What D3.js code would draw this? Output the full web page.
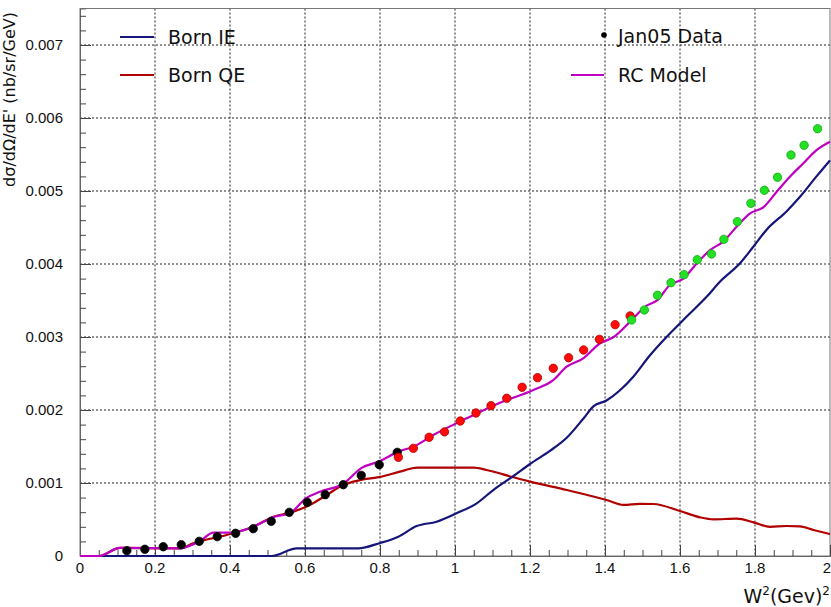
<!DOCTYPE html>
<html>
<head>
<meta charset="utf-8">
<script src="https://cdn.jsdelivr.net/npm/d3@7"></script>
<style>
  html, body { margin: 0; padding: 0; background: #fff; }
  svg { display: block; }
</style>
</head>
<body>
<svg id="chart" width="831" height="607"></svg>
<script>
// Born inelastic cross section (W², value)
const bornIEx = [0, 0.51, 0.578, 0.742, 0.8, 0.849, 0.898, 0.951, 1.004, 1.058, 1.102, 1.156, 1.2, 1.253, 1.298, 1.342, 1.369, 1.404, 1.44, 1.476, 1.52, 1.564, 1.618, 1.671, 1.707, 1.76, 1.796, 1.831, 1.884, 1.92, 1.964, 2.0];
const bornIEy = [0, 0, 0.000105, 0.000105, 0.000178, 0.000265, 0.00041, 0.00047, 0.000585, 0.000722, 0.000904, 0.001096, 0.00126, 0.00144, 0.00162, 0.00188, 0.00205, 0.00213, 0.00227, 0.00246, 0.00275, 0.0030, 0.00328, 0.00355, 0.00376, 0.00401, 0.00424, 0.00447, 0.00472, 0.00492, 0.0052, 0.00542];

// Born quasi-elastic cross section
const bornQEx = [0, 0.05, 0.107, 0.267, 0.302, 0.391, 0.462, 0.516, 0.569, 0.613, 0.658, 0.702, 0.747, 0.8, 0.853, 0.9, 1.05, 1.084, 1.156, 1.2, 1.298, 1.404, 1.449, 1.493, 1.529, 1.6, 1.653, 1.689, 1.751, 1.796, 1.84, 1.884, 1.92, 1.956, 2.0];
const bornQEy = [0, 0, 0.00011, 0.000105, 0.000174, 0.000288, 0.0004, 0.000538, 0.000607, 0.0007, 0.000836, 0.000973, 0.00104, 0.001083, 0.001155, 0.00121, 0.00121, 0.001178, 0.001078, 0.001018, 0.000904, 0.000767, 0.000699, 0.000715, 0.000712, 0.000616, 0.00053, 0.000502, 0.000511, 0.000461, 0.0004, 0.000411, 0.000405, 0.000356, 0.0003];

// Radiated model
const rcModelx = [0, 0.05, 0.107, 0.267, 0.293, 0.32, 0.356, 0.404, 0.462, 0.516, 0.56, 0.602, 0.64, 0.702, 0.752, 0.8, 0.849, 0.889, 0.942, 1.031, 1.12, 1.209, 1.262, 1.298, 1.342, 1.387, 1.422, 1.467, 1.511, 1.538, 1.573, 1.609, 1.645, 1.68, 1.715, 1.751, 1.787, 1.822, 1.858, 1.893, 1.929, 1.964, 2.0];
const rcModely = [0, 0, 0.00011, 0.000105, 0.00014, 0.000205, 0.00032, 0.00032, 0.0004, 0.000535, 0.000585, 0.00079, 0.00088, 0.00099, 0.00121, 0.0013, 0.00143, 0.001497, 0.001657, 0.001886, 0.0021, 0.002274, 0.00241, 0.002593, 0.002708, 0.002914, 0.002996, 0.00321, 0.00343, 0.003497, 0.003712, 0.0038, 0.00401, 0.00419, 0.004306, 0.00451, 0.004694, 0.004776, 0.00499, 0.005196, 0.005379, 0.00556, 0.005675];

// Jan05 data, three momentum settings
const dataBlackx = [0.125, 0.173, 0.222, 0.270, 0.318, 0.366, 0.415, 0.462, 0.510, 0.558, 0.606, 0.654, 0.702, 0.750, 0.798, 0.846];
const dataBlacky = [0.000073, 0.000092, 0.000127, 0.000155, 0.000201, 0.000265, 0.000311, 0.000374, 0.000475, 0.000598, 0.000735, 0.00084, 0.000977, 0.001105, 0.001251, 0.00142];
const dataRedx = [0.849, 0.889, 0.931, 0.972, 1.014, 1.056, 1.096, 1.138, 1.179, 1.220, 1.262, 1.303, 1.343, 1.385, 1.427, 1.467];
const dataRedy = [0.001352, 0.001475, 0.001626, 0.0017, 0.001849, 0.001959, 0.002059, 0.00216, 0.002311, 0.002443, 0.002571, 0.002716, 0.002822, 0.002968, 0.003169, 0.003288];
const dataGreenx = [1.471, 1.505, 1.540, 1.576, 1.611, 1.646, 1.684, 1.717, 1.753, 1.789, 1.825, 1.860, 1.896, 1.931, 1.967];
const dataGreeny = [0.003233, 0.00337, 0.003571, 0.003744, 0.003854, 0.004059, 0.004137, 0.004338, 0.00458, 0.004831, 0.00501, 0.005188, 0.005493, 0.005626, 0.005853];

const xTicks = [0, 0.2, 0.4, 0.6, 0.8, 1, 1.2, 1.4, 1.6, 1.8, 2];
const yTicks = [0, 0.001, 0.002, 0.003, 0.004, 0.005, 0.006, 0.007];

const svg = d3.select("#chart");
const plotLeft = 80, plotRight = 830, plotTop = 8.5, plotBottom = 556;

const x = d3.scaleLinear().domain([0, 2]).range([plotLeft, plotRight]);
const y = d3.scaleLinear().domain([0, 0.0075]).range([plotBottom, plotTop]);

const tickFont = "'Liberation Sans', Arial, sans-serif";
const textFont = "'DejaVu Sans', sans-serif";

// dotted grid
const grid = svg.append("g");
grid.selectAll("line.gx").data(xTicks.slice(1, -1)).join("line")
  .attr("x1", d => x(d)).attr("x2", d => x(d))
  .attr("y1", plotTop).attr("y2", plotBottom)
  .attr("stroke", "#222").attr("stroke-width", 1).attr("stroke-dasharray", "2,2");
grid.selectAll("line.gy").data(yTicks.slice(1)).join("line")
  .attr("x1", plotLeft).attr("x2", plotRight)
  .attr("y1", d => y(d)).attr("y2", d => y(d))
  .attr("stroke", "#222").attr("stroke-width", 1).attr("stroke-dasharray", "2,2");

// frame
svg.append("rect")
  .attr("x", plotLeft).attr("y", plotTop)
  .attr("width", plotRight - plotLeft).attr("height", plotBottom - plotTop)
  .attr("fill", "none").attr("stroke", "#777").attr("stroke-width", 1);

// axes with inward ticks
const xAxis = svg.append("g").attr("transform", `translate(0,${plotBottom})`)
  .call(d3.axisBottom(x).tickValues(d3.range(0, 2.0001, 0.05)).tickSize(-6).tickFormat(""));
xAxis.selectAll(".tick line").attr("stroke", "#444")
  .attr("y2", d => Math.abs(d * 5 - Math.round(d * 5)) < 1e-6 ? -11 : -6);
xAxis.select(".domain").attr("stroke", "#666");

const xLabels = svg.append("g");
xLabels.selectAll("text").data(xTicks).join("text")
  .attr("x", d => d === 2 ? plotRight + 1 : x(d)).attr("y", 573)
  .attr("text-anchor", d => d === 2 ? "end" : "middle")
  .attr("font-family", tickFont).attr("font-size", 15).attr("fill", "#111")
  .text(d => String(+d.toFixed(1)));

const yAxis = svg.append("g").attr("transform", `translate(${plotLeft},0)`)
  .call(d3.axisLeft(y).tickValues(d3.range(0, 0.00750001, 0.0002)).tickSize(-6).tickFormat(""));
yAxis.selectAll(".tick line").attr("stroke", "#444")
  .attr("x2", d => Math.abs(d * 1000 - Math.round(d * 1000)) < 1e-6 ? 11 : 6);
yAxis.select(".domain").attr("stroke", "#666");

const yLabels = svg.append("g");
yLabels.selectAll("text").data(yTicks).join("text")
  .attr("x", 63).attr("y", d => y(d) + 5)
  .attr("text-anchor", "end")
  .attr("font-family", tickFont).attr("font-size", 15).attr("fill", "#111")
  .text(d => d === 0 ? "0" : d3.format(".3f")(d));

// axis titles
const xt = svg.append("text")
  .attr("x", 830).attr("y", 603).attr("text-anchor", "end")
  .attr("font-family", textFont).attr("font-size", 19).attr("fill", "#111");
xt.append("tspan").text("W");
xt.append("tspan").attr("dy", -8).attr("font-size", 12).text("2");
xt.append("tspan").attr("dy", 8).text("(Gev)");
xt.append("tspan").attr("dy", -8).attr("font-size", 12).text("2");

svg.append("text")
  .attr("transform", "translate(15,12) rotate(-90)")
  .attr("text-anchor", "end")
  .attr("font-family", textFont).attr("font-size", 16).attr("fill", "#111")
  .text("dσ/dΩ/dE' (nb/sr/GeV)");

// curves
const line = d3.line().x(d => x(d[0])).y(d => y(d[1])).curve(d3.curveMonotoneX);
const curves = [
  { xs: bornQEx, ys: bornQEy, color: "#b00000" },
  { xs: bornIEx, ys: bornIEy, color: "#15157a" },
  { xs: rcModelx, ys: rcModely, color: "#c000c0" }
];
const plot = svg.append("g");
curves.forEach(c => {
  plot.append("path")
    .datum(c.xs.map((v, i) => [v, c.ys[i]]))
    .attr("d", line)
    .attr("fill", "none").attr("stroke", c.color).attr("stroke-width", 2.2)
    .attr("stroke-linejoin", "round");
});

// data points
const sets = [
  { xs: dataBlackx, ys: dataBlacky, fill: "#000", stroke: "#000" },
  { xs: dataRedx, ys: dataRedy, fill: "#ff0a0a", stroke: "#b00000" },
  { xs: dataGreenx, ys: dataGreeny, fill: "#22e022", stroke: "#14a814" }
];
sets.forEach(s => {
  plot.append("g").selectAll("circle")
    .data(s.xs.map((v, i) => [v, s.ys[i]])).join("circle")
    .attr("cx", d => x(d[0])).attr("cy", d => y(d[1])).attr("r", 4.2)
    .attr("fill", s.fill).attr("stroke", s.stroke).attr("stroke-width", 0.8);
});

// legend
const legend = svg.append("g").attr("font-family", textFont).attr("font-size", 19).attr("fill", "#111");
legend.append("line").attr("x1", 120).attr("x2", 154).attr("y1", 37).attr("y2", 37)
  .attr("stroke", "#15157a").attr("stroke-width", 2);
legend.append("text").attr("x", 168).attr("y", 44).text("Born IE");
legend.append("line").attr("x1", 120).attr("x2", 154).attr("y1", 75).attr("y2", 75)
  .attr("stroke", "#b00000").attr("stroke-width", 2);
legend.append("text").attr("x", 168).attr("y", 82).text("Born QE");
legend.append("circle").attr("cx", 604).attr("cy", 35).attr("r", 2.8).attr("fill", "#000");
legend.append("text").attr("x", 618).attr("y", 43).text("Jan05 Data");
legend.append("line").attr("x1", 571).attr("x2", 604).attr("y1", 75).attr("y2", 75)
  .attr("stroke", "#c000c0").attr("stroke-width", 2);
legend.append("text").attr("x", 618).attr("y", 82).text("RC Model");
</script>
</body>
</html>
